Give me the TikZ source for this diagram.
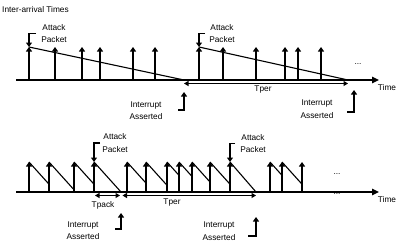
\documentclass[tikz,border=0pt]{standalone}
\usepackage{fontspec}
\setmainfont{Liberation Sans}
\usetikzlibrary{arrows.meta, positioning}

\begin{document}
\begin{tikzpicture}[
  x = 1pt, y = -1pt,
  every node/.style = {font=\fontsize{8.3}{12.5}\selectfont, inner sep=1pt},
  lbl/.style      = {align=center},
  timeaxis/.style = {line width=1.4pt, -{Triangle[length=7pt, width=6.5pt]}},
  pkt/.style      = {line width=1.5pt, -{Triangle[length=4.5pt, width=6pt]}},
  ramp/.style     = {line width=1.1pt},
  tspan/.style    = {line width=1.3pt,
                     {Triangle[length=4.5pt, width=5pt]}-{Triangle[length=4.5pt, width=5pt]}},
]
\useasboundingbox (0,0) rectangle (405,244);

\node[anchor=west] (title) at (1,10) {Inter-arrival Times};

%% ── Upper trace: inter-arrival times ─────────────────────────────────────
\coordinate (ta0) at (16,80);
\coordinate (ta1) at (379,80);
\draw[timeaxis] (ta0) -- (ta1);
\node (time1) at (387,88) {Time};

\foreach \x in {29,55,82,100,133,155,199,223,256,285,298,321}
  \draw[pkt] (\x,80) -- (\x,47);

\coordinate (ak1) at (29,47);
\coordinate (ir1) at (184,80);
\coordinate (ak2) at (199,47);
\coordinate (ir2) at (348,80);
\draw[ramp] (ak1) -- (ir1);
\draw[ramp] (ak2) -- (ir2);

\draw[tspan] ([yshift=-3.5pt]ir1) -- ([yshift=-3.5pt]ir2);
\node (tper1) at (263,90) {Tper};

\node (dots1) at (358,64) {...};

%% attack packets
\node[lbl] (ap1) at (54,33.5)  {Attack\\Packet};
\node[lbl] (ap2) at (222,33.5) {Attack\\Packet};
\draw[pkt, shorten <=4pt] (ap1.west) -| (ak1);
\draw[pkt, shorten <=3pt] (ap2.west) -| (ak2);

%% interrupts
\node[lbl] (ia1) at (146,110.5) {Interrupt\\Asserted};
\node[lbl] (ia2) at (317,109)   {Interrupt\\Asserted};
\coordinate (ic1) at (184,110);
\coordinate (it1) at (184,92);
\coordinate (ic2) at (354,112);
\coordinate (it2) at (354,90);
\draw[pkt] ([xshift=-6pt]ic1) -- (ic1) -- (it1);
\draw[pkt] ([xshift=-7pt]ic2) -- (ic2) -- (it2);

%% ── Lower trace: packet timer ────────────────────────────────────────────
\coordinate (ba0) at (16,192);
\coordinate (ba1) at (379,192);
\draw[timeaxis] (ba0) -- (ba1);
\node (time2) at (387,200) {Time};

\foreach \x in {29,49,74,94,127,146,167,179,192,210,230,270,282,302}
  \draw[pkt] (\x,192) -- (\x,162);

% timer restarts at every packet
\foreach \x/\n in {29/49, 49/74, 74/94, 127/146, 146/167, 167/179,
                   179/192, 192/210, 210/230, 270/282, 282/302}
  \draw[ramp] (\x,162) -- (\n,{162+(\n-\x)*1.11});

\coordinate (bk1) at (94,162);
\coordinate (bb1) at (94,192);
\coordinate (bi1) at (121,192);
\coordinate (bk2) at (230,162);
\coordinate (bi2) at (256,192);
\draw[ramp] (bk1) -- (bi1);
\draw[ramp] (bk2) -- (bi2);

\draw[tspan] ([xshift=1pt, yshift=-3.5pt]bb1) -- ([xshift=-1pt, yshift=-3.5pt]bi1);
\draw[tspan] ([xshift=1.5pt, yshift=-3.5pt]bi1) -- ([yshift=-3.5pt]bi2);
\node (tpack) at (103,205) {Tpack};
\node (tper2) at (172,203) {Tper};

\node (dots2) at (337,174) {...};
\node (dots3) at (337,194) {...};

%% attack packets
\node[lbl] (ap3) at (115,143)   {Attack\\Packet};
\node[lbl] (ap4) at (253,143.5) {Attack\\Packet};
\draw[pkt, shorten <=1pt] (ap3.west) -| (bk1);
\draw[pkt, shorten <=4pt] (ap4.west) -| (bk2);

%% interrupts
\node[lbl] (ia3) at (83,230.5) {Interrupt\\Asserted};
\node[lbl] (ia4) at (219,231)  {Interrupt\\Asserted};
\coordinate (ic3) at (121,229);
\coordinate (it3) at (121,213);
\coordinate (ic4) at (256,236);
\coordinate (it4) at (256,217);
\draw[pkt] ([xshift=-6pt]ic3) -- (ic3) -- (it3);
\draw[pkt] ([xshift=-8pt]ic4) -- (ic4) -- (it4);

\end{tikzpicture}
\end{document}
